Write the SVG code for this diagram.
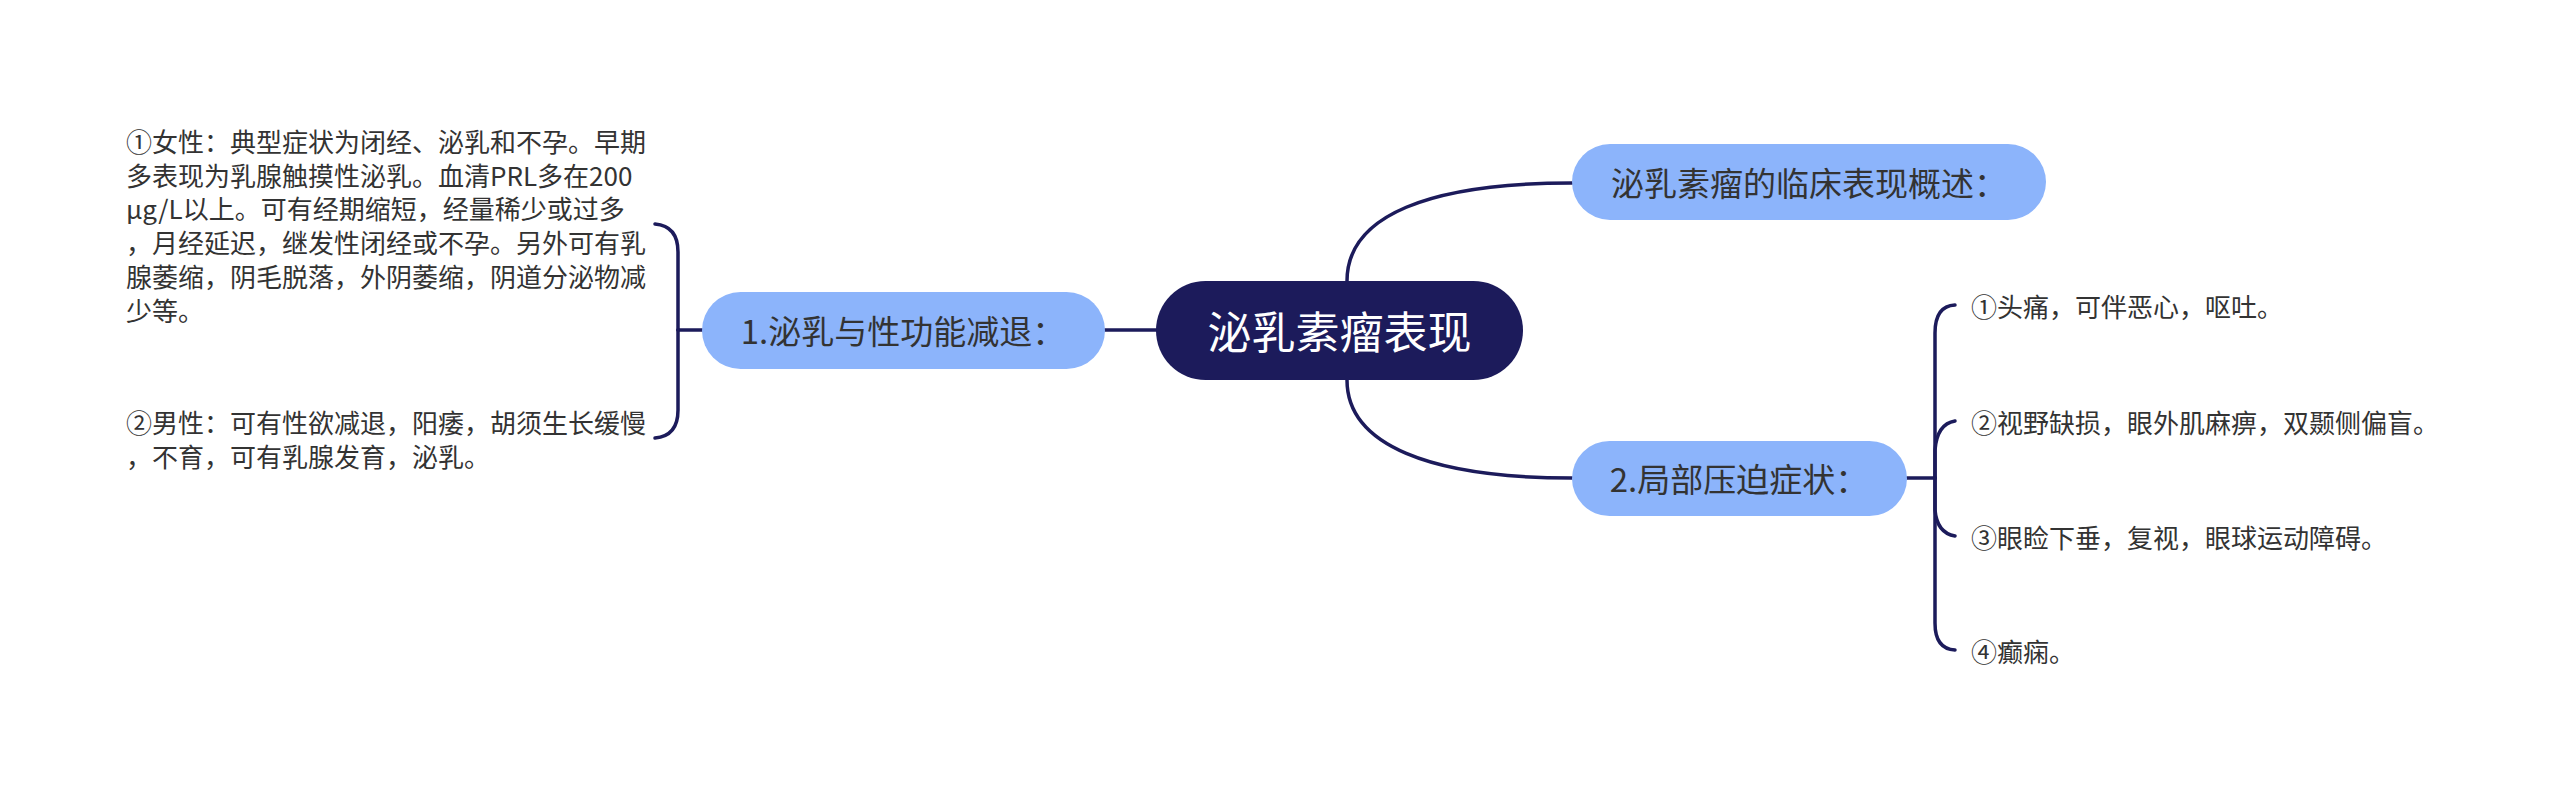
<svg xmlns="http://www.w3.org/2000/svg" width="2560" height="791" viewBox="0 0 2560 791">
<style>
.line{fill:none;stroke:#1c1b5b;stroke-width:3.5;stroke-linecap:round}
.sub{fill:#8cb4fb}
.root{fill:#1c1b5b}
.t{font-family:"Noto Sans CJK SC","Noto Sans",sans-serif;dominant-baseline:central}
.subt{font-size:33px;fill:#333333;text-anchor:middle}
.leaf{font-size:26px;fill:#333333}
</style>
<rect width="2560" height="791" fill="#ffffff"/>
<g id="connectors">
<path class="line" d="M1347,281 C1347,215 1430,183 1572,183"/>
<path class="line" d="M1347,380 C1347,445 1430,478 1572,478"/>
<path class="line" d="M1156,330 L1105,330"/>
<path class="line" d="M702,330 L678,330"/>
<path class="line" d="M678,330 L678,252 Q678,226 655,224"/>
<path class="line" d="M678,330 L678,410 Q678,436 655,438"/>
<path class="line" d="M1907,478 L1935,478"/>
<path class="line" d="M1935,478 L1935,333 Q1935,306 1955,305"/>
<path class="line" d="M1935,478 L1935,450 Q1937,424 1955,421"/>
<path class="line" d="M1935,478 L1935,510 Q1937,533 1955,536"/>
<path class="line" d="M1935,478 L1935,623 Q1935,649 1955,650"/>
</g>
<g id="root">
<rect class="root" x="1156" y="281" width="367" height="99" rx="49.5"/>
<text class="t" x="1339.5" y="330" font-size="44" fill="#ffffff" text-anchor="middle">泌乳素瘤表现</text>
</g>
<g id="node-overview">
<rect class="sub" x="1572" y="144" width="474" height="76" rx="38"/>
<text class="t subt" x="1809" y="182">泌乳素瘤的临床表现概述：</text>
</g>
<g id="node-1">
<rect class="sub" x="702" y="292" width="403" height="77" rx="38.5"/>
<text class="t subt" x="903" y="330">1.泌乳与性功能减退：</text>
</g>
<g id="node-2">
<rect class="sub" x="1572" y="441" width="335" height="75" rx="37.5"/>
<text class="t subt" x="1739" y="478">2.局部压迫症状：</text>
</g>
<g id="leaf-1-1">
<text class="t leaf" x="126" y="140">①女性：典型症状为闭经、泌乳和不孕。早期</text>
<text class="t leaf" x="126" y="174">多表现为乳腺触摸性泌乳。血清PRL多在200</text>
<text class="t leaf" x="126" y="207">μg/L以上。可有经期缩短，经量稀少或过多</text>
<text class="t leaf" x="126" y="241">，月经延迟，继发性闭经或不孕。另外可有乳</text>
<text class="t leaf" x="126" y="275">腺萎缩，阴毛脱落，外阴萎缩，阴道分泌物减</text>
<text class="t leaf" x="126" y="309">少等。</text>
</g>
<g id="leaf-1-2">
<text class="t leaf" x="126" y="421">②男性：可有性欲减退，阳痿，胡须生长缓慢</text>
<text class="t leaf" x="126" y="455">，不育，可有乳腺发育，泌乳。</text>
</g>
<g id="leaf-2-1"><text class="t leaf" x="1971" y="305">①头痛，可伴恶心，呕吐。</text></g>
<g id="leaf-2-2"><text class="t leaf" x="1971" y="421">②视野缺损，眼外肌麻痹，双颞侧偏盲。</text></g>
<g id="leaf-2-3"><text class="t leaf" x="1971" y="536">③眼睑下垂，复视，眼球运动障碍。</text></g>
<g id="leaf-2-4"><text class="t leaf" x="1971" y="650">④癫痫。</text></g>
</svg>
